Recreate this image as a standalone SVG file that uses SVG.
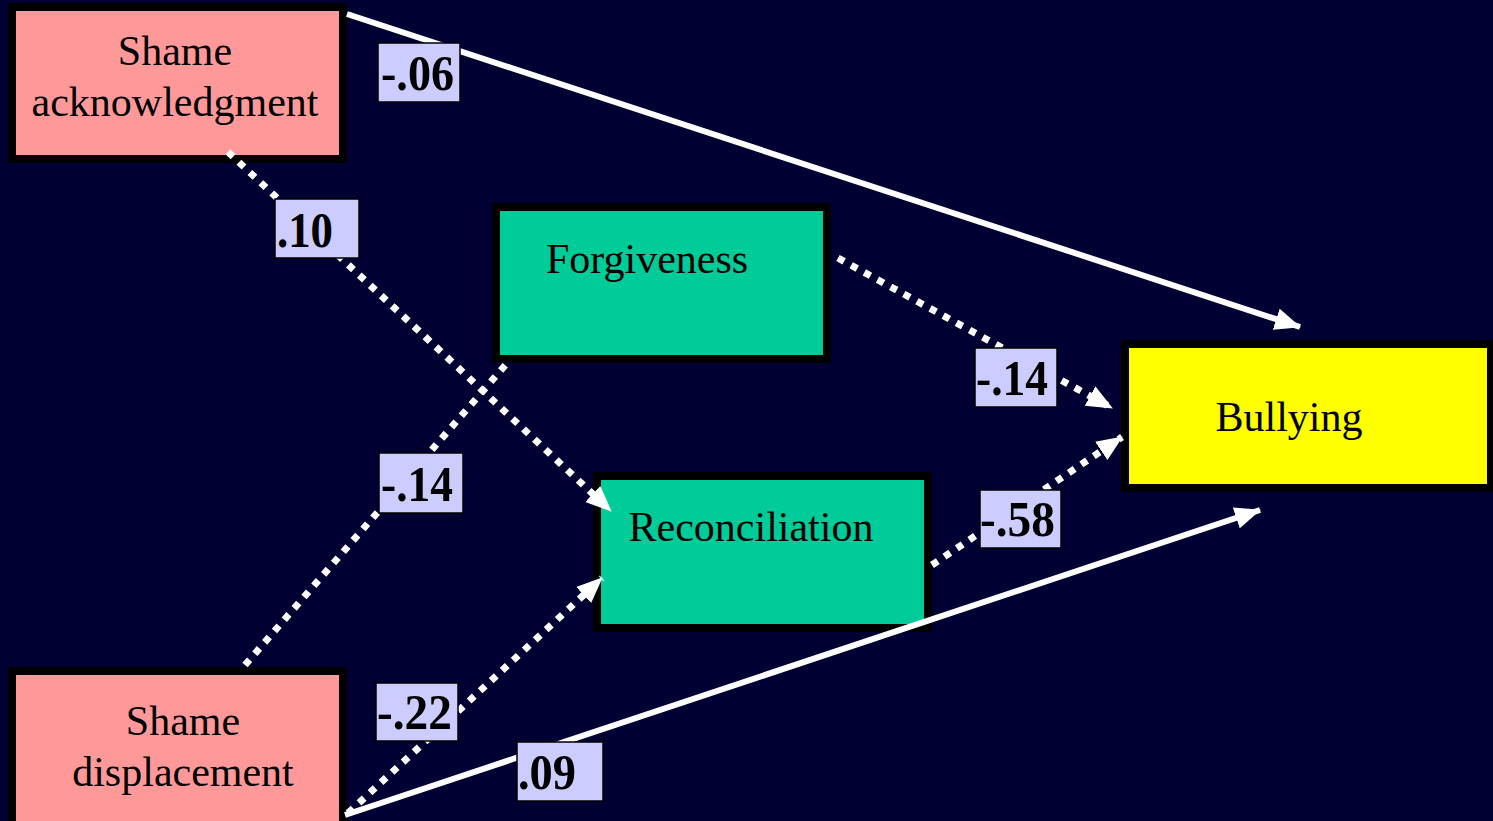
<svg xmlns="http://www.w3.org/2000/svg" width="1493" height="821" viewBox="0 0 1493 821">
<style>
.node{stroke:#000;stroke-width:8}
.nt{font-family:"Liberation Serif","Times New Roman",serif;font-size:42px;fill:#000;text-anchor:middle}
.lbl{fill:#CCCCFF;stroke:#000;stroke-width:1.5}
.lt{font-family:"Liberation Serif","Times New Roman",serif;font-size:51px;font-weight:bold;fill:#000}
.solid{stroke:#fff;stroke-width:6;fill:none}
.dot{stroke:#fff;stroke-width:7;stroke-dasharray:7 8;fill:none}
</style>
<defs>
<marker id="ah" markerUnits="userSpaceOnUse" markerWidth="26" markerHeight="24" refX="25" refY="12" orient="auto">
<path d="M0,1 L26,12 L0,23 Z" fill="#fff"/>
</marker>
</defs>
<rect width="1493" height="821" fill="#000033"/>
<g id="shame-ack"><rect class="node" x="12" y="7" width="331" height="152" fill="#FF9999"/><text class="nt" x="175" y="65">Shame</text><text class="nt" x="175" y="116">acknowledgment</text></g>
<g id="forgiveness"><rect class="node" x="496" y="207" width="331" height="152" fill="#00CC99"/><text class="nt" x="647" y="273">Forgiveness</text></g>
<g id="reconciliation"><rect class="node" x="597" y="476" width="331" height="152" fill="#00CC99"/><text class="nt" x="751" y="541">Reconciliation</text></g>
<g id="bullying"><rect class="node" x="1125" y="344" width="366" height="144" fill="#FFFF00"/><text class="nt" x="1289" y="431">Bullying</text></g>
<g id="shame-disp"><rect class="node" x="12" y="671" width="331" height="160" fill="#FF9999"/><text class="nt" x="183" y="735">Shame</text><text class="nt" x="183" y="786">displacement</text></g>
<g id="connectors">
<line class="solid" x1="347" y1="14" x2="1300" y2="327" marker-end="url(#ah)"/>
<line class="dot" x1="228" y1="152" x2="611" y2="511" marker-end="url(#ah)"/>
<line class="dot" x1="245" y1="665" x2="508" y2="362"/>
<line class="dot" x1="348" y1="813" x2="602" y2="578" marker-end="url(#ah)"/>
<line class="solid" x1="345" y1="815" x2="1260" y2="510" marker-end="url(#ah)"/>
<line class="dot" x1="838" y1="258" x2="1112" y2="408" marker-end="url(#ah)"/>
<line class="dot" x1="932" y1="565" x2="1122" y2="437" marker-end="url(#ah)"/>
</g>
<g id="labels">
<rect class="lbl" x="378" y="43" width="82" height="59"/><text class="lt" x="381" y="90" textLength="73" lengthAdjust="spacingAndGlyphs">-.06</text>
<rect class="lbl" x="275" y="199" width="84" height="59"/><text class="lt" x="277" y="247" textLength="56" lengthAdjust="spacingAndGlyphs">.10</text>
<rect class="lbl" x="379" y="453" width="84" height="60"/><text class="lt" x="381" y="501" textLength="72" lengthAdjust="spacingAndGlyphs">-.14</text>
<rect class="lbl" x="975" y="348" width="82" height="59"/><text class="lt" x="976" y="395" textLength="72" lengthAdjust="spacingAndGlyphs">-.14</text>
<rect class="lbl" x="980" y="490" width="81" height="58"/><text class="lt" x="980" y="536" textLength="75" lengthAdjust="spacingAndGlyphs">-.58</text>
<rect class="lbl" x="376" y="683" width="82" height="58"/><text class="lt" x="377" y="729" textLength="75" lengthAdjust="spacingAndGlyphs">-.22</text>
<rect class="lbl" x="517" y="742" width="86" height="59"/><text class="lt" x="518" y="789" textLength="58" lengthAdjust="spacingAndGlyphs">.09</text>
</g>
</svg>
